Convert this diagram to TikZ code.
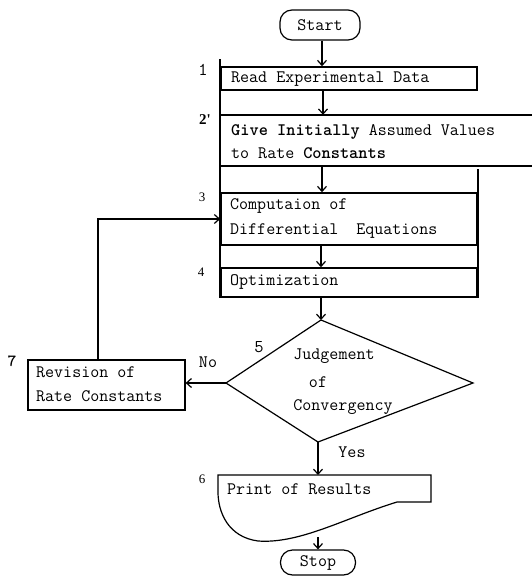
\documentclass[tikz,border=0pt]{standalone}
\usepackage{fontspec}
\newfontfamily\rmn{Liberation Serif}
\usetikzlibrary{arrows.meta,calc}
\begin{document}
\begin{tikzpicture}[x=1pt,y=-1pt,
  font=\ttfamily\fontsize{17.5}{21}\selectfont,
  boxline/.style={line width=1.6pt},
  thinline/.style={line width=1.2pt},
  arr/.style={line width=1.2pt,-{Straight Barb[length=5pt,width=9pt,line width=1.2pt]}},
  box/.style={draw,boxline,rectangle,inner sep=0pt},
  term/.style={draw,thinline,rectangle,rounded corners=12pt,inner sep=0pt},
  txt/.style={anchor=west,inner sep=0pt,align=left},
  num/.style={inner sep=0pt,font=\rmn\fontsize{13}{15}\selectfont},
  tnum/.style={inner sep=0pt,font=\ttfamily\fontsize{18}{20}\selectfont}
]
\useasboundingbox (0,0) rectangle (532,578);

% terminators
\node[term,minimum width=80pt,minimum height=30pt] (start) at (320,25) {Start};
\node[term,minimum width=75pt,minimum height=25pt] (stop) at (318,562.5) {Stop};

% process boxes
\node[box,minimum width=256pt,minimum height=23pt] (b1) at (349,78.5) {};
\node[rectangle,inner sep=0pt,minimum width=311pt,minimum height=51pt] (b2) at (376.5,140.5) {};
\node[box,minimum width=256pt,minimum height=52pt] (b3) at (349,219) {};
\node[box,minimum width=256pt,minimum height=29pt] (b4) at (349,282.5) {};
\draw[boxline] (b2.north west) -- (b2.north east);
\draw[boxline] (b2.south west) -- (b2.south east);
\draw[boxline] ([yshift=7pt]b1.north west) -- (b4.south west);
\draw[boxline] ([yshift=23pt]b3.north east) -- (b4.south east);

% texts in boxes
\node[txt] (t1) at (231,79) {Read Experimental Data};
\node[txt] (t2) at (231,141.5) {\textbf{Give Initially} Assumed Values\\[2pt]to Rate \textbf{Constants}};
\node[txt] (t3) at (230,218) {Computaion of\\[4pt]Differential\ \ Equations};
\node[txt] (t4) at (230,282) {Optimization};

% revision box
\node[box,thinline,minimum width=157pt,minimum height=50pt] (r7) at (106.5,385) {};
\node[txt] (t7) at (36,384.5) {Revision of\\[3pt]Rate Constants};

% decision diamond
\coordinate (d5t) at (321,320);
\coordinate (d5l) at (226,383);
\coordinate (d5r) at (473,383);
\coordinate (d5b) at (318,442);
\draw[thinline] (d5t) -- (d5r) -- (d5b) -- (d5l) -- cycle;
\node[inner sep=0pt] (j1) at (334,356) {Judgement};
\node[inner sep=0pt] (j2) at (318,382) {of};
\node[inner sep=0pt] (j3) at (343,407) {Convergency};

% print (document) shape
\coordinate (p6t) at (318,475);
\coordinate (p6b) at (318,537);
\draw[thinline] (218,475) -- (431,475) -- (431,502) -- (397,502)
  .. controls (345,518) and (300,544) .. (258,541)
  .. controls (228,537) and (218,512) .. (218,492) -- cycle;
\node[txt] (t6) at (227,489) {Print of Results};

% labels
\node[tnum] (n1) at (203,70) {1};
\node[inner sep=0pt,font=\rmn\bfseries\fontsize{15}{17}\selectfont] (n2) at (205,120) {2'};
\node[num] (n3) at (202,197) {3};
\node[num] (n4) at (201,272) {4};
\node[tnum] (n5) at (259,347) {5};
\node[num] (n6) at (202,479) {6};
\node[tnum,font=\ttfamily\bfseries\fontsize{17}{19}\selectfont] (n7) at (12,361) {7};
\node[inner sep=0pt] (no) at (208,362) {No};
\node[inner sep=0pt] (yes) at (352,452) {Yes};

% connectors
\coordinate (fb) at (98,219);
\draw[arr] ([xshift=2pt]start.south) -- ([xshift=2pt]start.south |- b1.north);
\draw[arr] (b1.south -| 323,0) -- (b2.north -| 323,0);
\draw[arr] (b2.south -| 322,0) -- (b3.north -| 322,0);
\draw[arr] (b3.south -| 321,0) -- (b4.north -| 321,0);
\draw[arr] (b4.south -| d5t) -- (d5t);
\draw[arr] (d5l) -- (d5l -| r7.east);
\draw[arr] (d5b) -- (d5b |- p6t);
\draw[arr] (p6b) -- (stop.north);
\draw[arr] (r7.north -| fb) -- (fb) -- (fb -| b3.west);
\end{tikzpicture}
\end{document}
